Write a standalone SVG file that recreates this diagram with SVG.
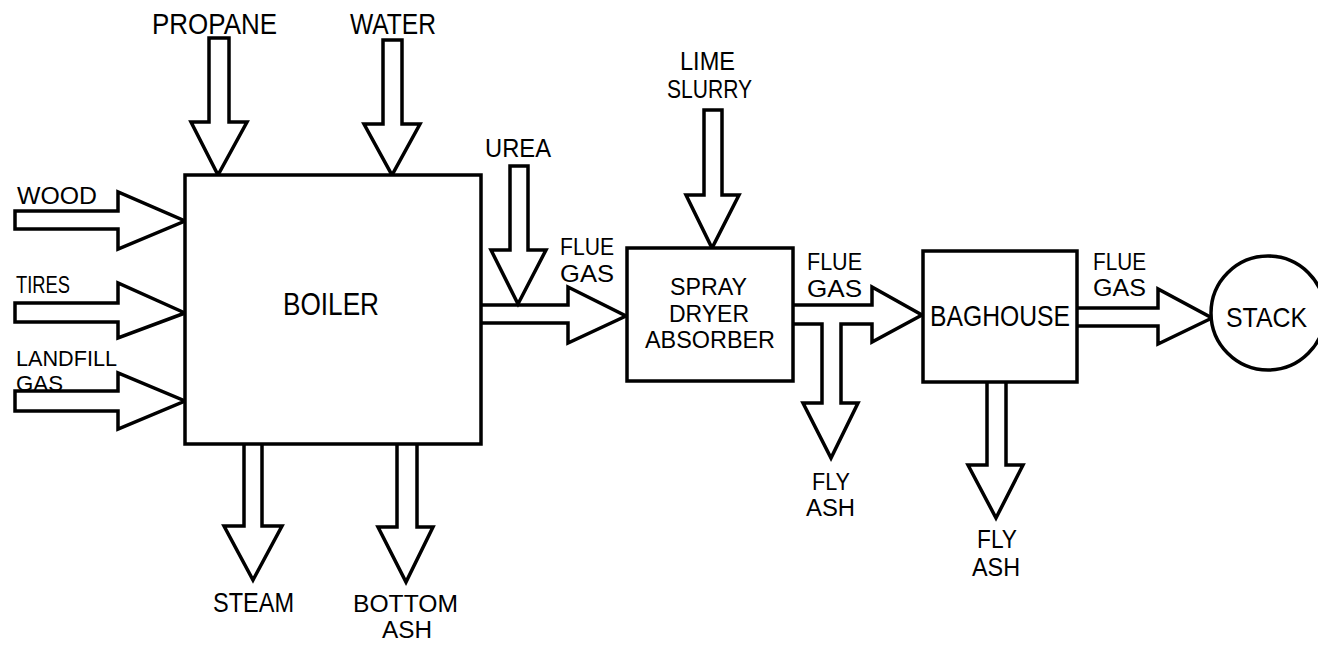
<svg xmlns="http://www.w3.org/2000/svg" width="1318" height="646" viewBox="0 0 1318 646">
<style>
.box{fill:#fff;stroke:#000;stroke-width:3.5}
.arr{fill:#fff;stroke:#000;stroke-width:3.5;stroke-linejoin:miter}
text{font-family:"Liberation Sans",Arial,sans-serif;fill:#000}
.s22{font-size:22px}.s23{font-size:23px}.s24{font-size:24px}.s25{font-size:25px}.s26{font-size:26px}.s28{font-size:28px}.s29{font-size:29px}.s32{font-size:32px}
</style>
<rect width="1318" height="646" fill="#fff"/>
<g id="connectors">
  <g id="propane-in">
    <path class="arr" d="M209,38 H229 V122 H247 L218,175 L191,122 H209 Z"/>
    <text class="s29" x="152" y="34" textLength="125" lengthAdjust="spacingAndGlyphs">PROPANE</text>
  </g>
  <g id="water-in">
    <path class="arr" d="M383,40 H402 V124 H420 L392,175 L364,124 H383 Z"/>
    <text class="s29" x="350" y="34" textLength="86" lengthAdjust="spacingAndGlyphs">WATER</text>
  </g>
  <g id="wood-in">
    <path class="arr" d="M15,211 H118 V192 L185,221 L118,249 V229 H15 Z"/>
    <text class="s24" x="17" y="204" textLength="80" lengthAdjust="spacingAndGlyphs">WOOD</text>
  </g>
  <g id="tires-in">
    <path class="arr" d="M15,303 H118 V283 L185,313 L118,338 V322 H15 Z"/>
    <text class="s24" x="16" y="293" textLength="54" lengthAdjust="spacingAndGlyphs">TIRES</text>
  </g>
  <g id="landfill-in">
    <path class="arr" d="M15,391 H118 V373 L185,401 L118,429 V411 H15 Z"/>
    <text class="s22" x="16" y="366" textLength="101" lengthAdjust="spacingAndGlyphs">LANDFILL</text>
    <text class="s22" x="16" y="391" textLength="47" lengthAdjust="spacingAndGlyphs">GAS</text>
  </g>
  <g id="steam-out">
    <path class="arr" d="M244,444 V526 H224 L253,580 L282,526 H262 V444"/>
    <text class="s28" x="213" y="612" textLength="81" lengthAdjust="spacingAndGlyphs">STEAM</text>
  </g>
  <g id="bottomash-out">
    <path class="arr" d="M397,444 V527 H378 L406,582 L433,527 H417 V444"/>
    <text class="s23" x="353" y="612" textLength="105" lengthAdjust="spacingAndGlyphs">BOTTOM</text>
    <text class="s23" x="382" y="638" textLength="50" lengthAdjust="spacingAndGlyphs">ASH</text>
  </g>
  <g id="fluegas-1">
    <path class="arr" d="M481,305 H568 V287 L626,316 L568,343 V323 H481"/>
    <text class="s24" x="560" y="255" textLength="54" lengthAdjust="spacingAndGlyphs">FLUE</text>
    <text class="s24" x="560" y="282" textLength="54" lengthAdjust="spacingAndGlyphs">GAS</text>
  </g>
  <g id="urea-in">
    <path class="arr" d="M510,166 H528 V250 H546 L518,304 L491,250 H510 Z"/>
    <text class="s26" x="485" y="157" textLength="66" lengthAdjust="spacingAndGlyphs">UREA</text>
  </g>
  <g id="lime-in">
    <path class="arr" d="M704,110 H722 V195 H739 L712,248 L686,195 H704 Z"/>
    <text class="s25" x="680" y="70" textLength="55" lengthAdjust="spacingAndGlyphs">LIME</text>
    <text class="s25" x="667" y="98" textLength="85" lengthAdjust="spacingAndGlyphs">SLURRY</text>
  </g>
  <g id="fluegas-2">
    <path class="arr" d="M793,305 H872 V287 L922,315 L872,342 V324 H841 V403 H858 L831,458 L803,403 H822 V324 H793"/>
    <text class="s24" x="807" y="270" textLength="55" lengthAdjust="spacingAndGlyphs">FLUE</text>
    <text class="s24" x="807" y="297" textLength="55" lengthAdjust="spacingAndGlyphs">GAS</text>
    <text class="s23" x="812" y="490" textLength="38" lengthAdjust="spacingAndGlyphs">FLY</text>
    <text class="s23" x="806" y="516" textLength="49" lengthAdjust="spacingAndGlyphs">ASH</text>
  </g>
  <g id="flyash-2">
    <path class="arr" d="M987,382 V465 H968 L996,518 L1023,465 H1006 V382"/>
    <text class="s25" x="977" y="548" textLength="40" lengthAdjust="spacingAndGlyphs">FLY</text>
    <text class="s25" x="972" y="576" textLength="48" lengthAdjust="spacingAndGlyphs">ASH</text>
  </g>
  <g id="fluegas-3">
    <path class="arr" d="M1077,308 H1158 V289 L1212,318 L1158,344 V326 H1077"/>
    <text class="s23" x="1093" y="270" textLength="53" lengthAdjust="spacingAndGlyphs">FLUE</text>
    <text class="s23" x="1093" y="296" textLength="53" lengthAdjust="spacingAndGlyphs">GAS</text>
  </g>
</g>
<g id="boiler">
  <rect class="box" x="185" y="175" width="296" height="269"/>
  <text class="s32" x="283" y="315" textLength="96" lengthAdjust="spacingAndGlyphs">BOILER</text>
</g>
<g id="spray-dryer-absorber">
  <rect class="box" x="627" y="248" width="166" height="133"/>
  <text class="s23" x="670" y="295" textLength="77" lengthAdjust="spacingAndGlyphs">SPRAY</text>
  <text class="s23" x="669" y="322" textLength="80" lengthAdjust="spacingAndGlyphs">DRYER</text>
  <text class="s23" x="645" y="348" textLength="130" lengthAdjust="spacingAndGlyphs">ABSORBER</text>
</g>
<g id="baghouse">
  <rect class="box" x="923" y="251" width="154" height="131"/>
  <text class="s29" x="930" y="326" textLength="140" lengthAdjust="spacingAndGlyphs">BAGHOUSE</text>
</g>
<g id="stack">
  <circle class="box" cx="1268" cy="313" r="57"/>
  <text class="s28" x="1226" y="327" textLength="81" lengthAdjust="spacingAndGlyphs">STACK</text>
</g>
</svg>
